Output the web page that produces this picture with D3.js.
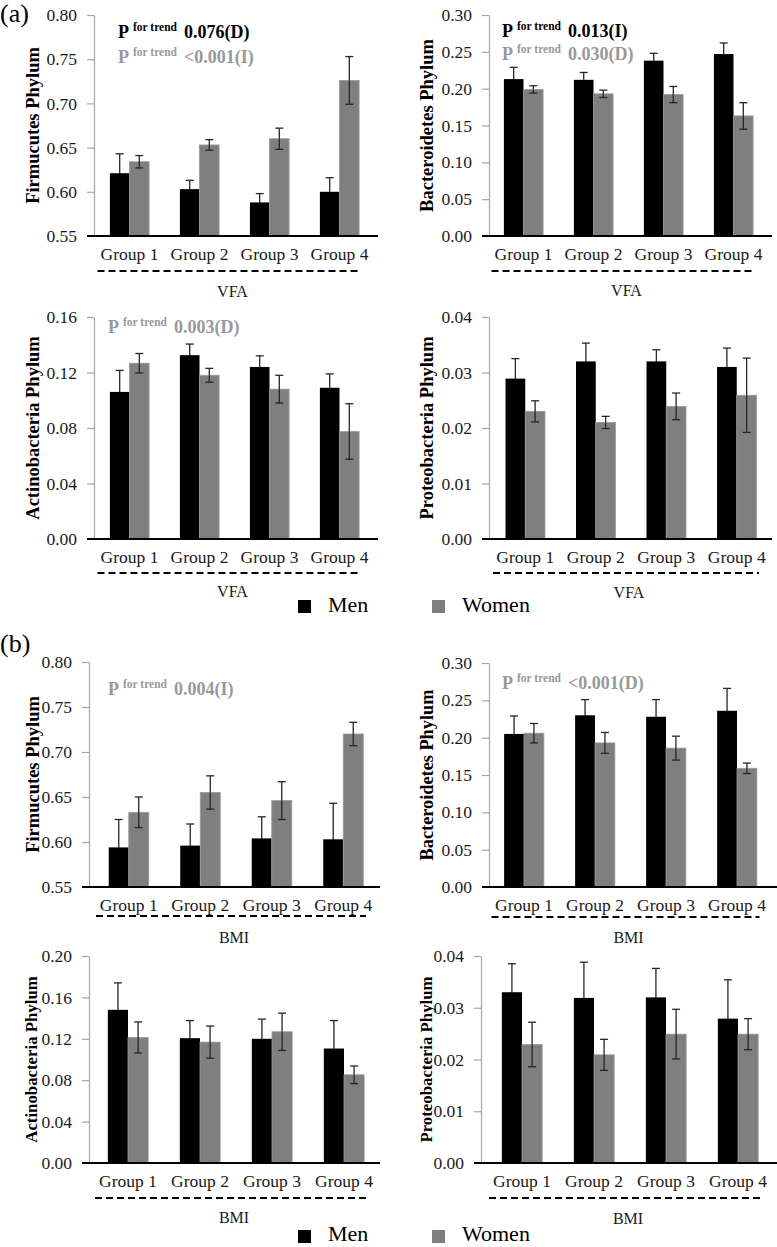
<!DOCTYPE html>
<html>
<head>
<meta charset="utf-8">
<script src="https://cdn.jsdelivr.net/npm/d3@7"></script>
<style>
  body { margin: 0; background: #fff; }
  text { font-family: "Liberation Serif", "Times New Roman", serif; }
</style>
</head>
<body>
<div id="chart"></div>
<script>
const groups = ["Group 1", "Group 2", "Group 3", "Group 4"];
const sexes = ["Men", "Women"];

// (a) VFA
const firmVfaMen = [0.621, 0.603, 0.588, 0.600];
const firmVfaMenErr = [0.022, 0.010, 0.010, 0.016];
const firmVfaWomen = [0.634, 0.653, 0.660, 0.726];
const firmVfaWomenErr = [0.007, 0.006, 0.012, 0.027];

const bactVfaMen = [0.213, 0.212, 0.238, 0.247];
const bactVfaMenErr = [0.016, 0.010, 0.010, 0.015];
const bactVfaWomen = [0.199, 0.193, 0.192, 0.163];
const bactVfaWomenErr = [0.005, 0.005, 0.011, 0.018];

const actVfaMen = [0.106, 0.1325, 0.124, 0.109];
const actVfaMenErr = [0.0155, 0.008, 0.008, 0.010];
const actVfaWomen = [0.1267, 0.118, 0.108, 0.0775];
const actVfaWomenErr = [0.007, 0.005, 0.010, 0.020];

const protVfaMen = [0.0289, 0.032, 0.032, 0.031];
const protVfaMenErr = [0.0036, 0.0033, 0.0021, 0.0034];
const protVfaWomen = [0.023, 0.021, 0.0239, 0.0259];
const protVfaWomenErr = [0.0019, 0.0011, 0.0024, 0.0067];

// (b) BMI
const firmBmiMen = [0.594, 0.596, 0.604, 0.603];
const firmBmiMenErr = [0.031, 0.024, 0.024, 0.040];
const firmBmiWomen = [0.633, 0.655, 0.646, 0.720];
const firmBmiWomenErr = [0.017, 0.0185, 0.021, 0.013];

const bactBmiMen = [0.205, 0.230, 0.228, 0.236];
const bactBmiMenErr = [0.024, 0.021, 0.023, 0.030];
const bactBmiWomen = [0.206, 0.193, 0.186, 0.159];
const bactBmiWomenErr = [0.013, 0.014, 0.016, 0.007];

const actBmiMen = [0.148, 0.1206, 0.120, 0.1106];
const actBmiMenErr = [0.026, 0.017, 0.019, 0.027];
const actBmiWomen = [0.1213, 0.1168, 0.1268, 0.0852];
const actBmiWomenErr = [0.015, 0.0155, 0.018, 0.0085];

const protBmiMen = [0.033, 0.0319, 0.032, 0.0279];
const protBmiMenErr = [0.0055, 0.0069, 0.0056, 0.0075];
const protBmiWomen = [0.0229, 0.0209, 0.0249, 0.0249];
const protBmiWomenErr = [0.0043, 0.003, 0.0048, 0.003];

// tick labels
const firmTicks = [0.55, 0.60, 0.65, 0.70, 0.75, 0.80];
const bactTicks = [0, 0.05, 0.10, 0.15, 0.20, 0.25, 0.30];
const actVfaTicks = [0, 0.04, 0.08, 0.12, 0.16];
const actBmiTicks = [0, 0.04, 0.08, 0.12, 0.16, 0.20];
const protTicks = [0, 0.01, 0.02, 0.03, 0.04];

// P for trend, [men, women]
const trendFirmVfa = ["0.076(D)", "<0.001(I)"];
const trendBactVfa = ["0.013(I)", "0.030(D)"];
const trendActVfa = [null, "0.003(D)"];
const trendProtVfa = [null, null];
const trendFirmBmi = [null, "0.004(I)"];
const trendBactBmi = [null, "<0.001(D)"];
const trendActBmi = [null, null];
const trendProtBmi = [null, null];

const colors = { Men: "#000000", Women: "#7f7f7f" };
const trendColors = ["#000000", "#999999"];

const panels = [
  { men: firmVfaMen, menErr: firmVfaMenErr, women: firmVfaWomen, womenErr: firmVfaWomenErr,
    ticks: firmTicks, title: "Firmucutes Phylum", cat: "VFA", trend: trendFirmVfa,
    x0: 94, xEnd: 378, b0: 94.5, b1: 374.5, yTop: 15, yBot: 236,
    lx: 39, lfs: 18.5, tp: [118, 38, 25], dash: 35, catY: 61 },
  { men: bactVfaMen, menErr: bactVfaMenErr, women: bactVfaWomen, womenErr: bactVfaWomenErr,
    ticks: bactTicks, title: "Bacteroidetes Phylum", cat: "VFA", trend: trendBactVfa,
    x0: 489, xEnd: 772, b0: 488.5, b1: 768.5, yTop: 15, yBot: 236,
    lx: 433, lfs: 18.5, tp: [502, 37, 23], dash: 35, catY: 60 },
  { men: actVfaMen, menErr: actVfaMenErr, women: actVfaWomen, womenErr: actVfaWomenErr,
    ticks: actVfaTicks, title: "Actinobacteria Phylum", cat: "VFA", trend: trendActVfa,
    x0: 94, xEnd: 378, b0: 94.5, b1: 374.5, yTop: 317, yBot: 539,
    lx: 39, lfs: 18.5, tp: [108, 333, 25], dash: 34, catY: 58 },
  { men: protVfaMen, menErr: protVfaMenErr, women: protVfaWomen, womenErr: protVfaWomenErr,
    ticks: protTicks, title: "Proteobacteria Phylum", cat: "VFA", trend: trendProtVfa,
    x0: 489, xEnd: 772, b0: 490, b1: 772, yTop: 317, yBot: 539,
    lx: 433, lfs: 18.5, tp: [502, 333, 25], dash: 34, catY: 59 },
  { men: firmBmiMen, menErr: firmBmiMenErr, women: firmBmiWomen, womenErr: firmBmiWomenErr,
    ticks: firmTicks, title: "Firmucutes Phylum", cat: "BMI", trend: trendFirmBmi,
    x0: 89, xEnd: 380, b0: 93, b1: 379, yTop: 662, yBot: 887,
    lx: 39, lfs: 18.5, tp: [108, 695, 25], dash: 29, catY: 56 },
  { men: bactBmiMen, menErr: bactBmiMenErr, women: bactBmiWomen, womenErr: bactBmiWomenErr,
    ticks: bactTicks, title: "Bacteroidetes Phylum", cat: "BMI", trend: trendBactBmi,
    x0: 489, xEnd: 777, b0: 488.5, b1: 772.5, yTop: 663, yBot: 887,
    lx: 433, lfs: 18.3, tp: [502, 689, 25], dash: 30, catY: 56 },
  { men: actBmiMen, menErr: actBmiMenErr, women: actBmiWomen, womenErr: actBmiWomenErr,
    ticks: actBmiTicks, title: "Actinobacteria Phylum", cat: "BMI", trend: trendActBmi,
    x0: 89, xEnd: 380, b0: 92, b1: 380, yTop: 956, yBot: 1163,
    lx: 37, lfs: 16.8, tp: [108, 990, 25], dash: 35, catY: 60 },
  { men: protBmiMen, menErr: protBmiMenErr, women: protBmiWomen, womenErr: protBmiWomenErr,
    ticks: protTicks, title: "Proteobacteria Phylum", cat: "BMI", trend: trendProtBmi,
    x0: 481, xEnd: 777, b0: 486, b1: 774, yTop: 956, yBot: 1163,
    lx: 432, lfs: 16.8, tp: [502, 990, 25], dash: 35, catY: 61 }
];

const W = 777, H = 1247;
const svg = d3.select("#chart").append("svg")
  .attr("width", W).attr("height", H)
  .attr("viewBox", [0, 0, W, H]);

function drawPanel(p) {
  const g = svg.append("g");
  const y = d3.scaleLinear()
    .domain([p.ticks[0], p.ticks[p.ticks.length - 1]])
    .range([p.yBot, p.yTop]);
  const x = d3.scaleBand().domain(groups).range([p.b0, p.b1])
    .paddingInner(0.44).paddingOuter(0.22);
  const xs = d3.scaleBand().domain(sexes).range([0, x.bandwidth()]);

  // y axis
  const ya = g.append("g")
    .attr("transform", `translate(${p.x0},0)`)
    .call(d3.axisLeft(y).tickValues(p.ticks).tickFormat(d3.format(".2f"))
      .tickSize(7).tickSizeOuter(0).tickPadding(10));
  ya.select(".domain").attr("stroke", "#a6a6a6").attr("stroke-width", 1.2);
  ya.selectAll(".tick line").attr("stroke", "#a6a6a6").attr("stroke-width", 1.2);
  ya.selectAll(".tick text")
    .attr("fill", "#1a1a1a")
    .style("font-size", "17.5px");

  // bars
  const rows = groups.map((grp, i) => [
    { grp, sex: "Men", v: p.men[i], e: p.menErr[i] },
    { grp, sex: "Women", v: p.women[i], e: p.womenErr[i] }
  ]).flat();

  g.selectAll("rect.bar").data(rows).enter().append("rect")
    .attr("class", "bar")
    .attr("x", d => x(d.grp) + xs(d.sex))
    .attr("width", xs.bandwidth())
    .attr("y", d => y(d.v))
    .attr("height", d => y(p.ticks[0]) - y(d.v))
    .attr("fill", d => colors[d.sex])
    .attr("stroke", d => d.sex === "Women" ? "#9a9a9a" : "none")
    .attr("stroke-width", 0.8);

  // error bars (lower half on black bars is black on black)
  const eb = g.selectAll("g.err").data(rows).enter().append("g")
    .attr("class", "err")
    .attr("stroke-width", 1.3);
  const cx = d => x(d.grp) + xs(d.sex) + xs.bandwidth() / 2;
  const low = d => d.sex === "Men" ? "#000" : "#262626";
  eb.append("line")
    .attr("stroke", "#262626")
    .attr("x1", cx).attr("x2", cx)
    .attr("y1", d => y(d.v + d.e)).attr("y2", d => y(d.v));
  eb.append("line")
    .attr("stroke", low)
    .attr("x1", cx).attr("x2", cx)
    .attr("y1", d => y(d.v)).attr("y2", d => y(d.v - d.e));
  eb.append("line")
    .attr("stroke", "#262626")
    .attr("x1", d => cx(d) - 4).attr("x2", d => cx(d) + 4)
    .attr("y1", d => y(d.v + d.e)).attr("y2", d => y(d.v + d.e));
  eb.append("line")
    .attr("stroke", low)
    .attr("x1", d => cx(d) - 4).attr("x2", d => cx(d) + 4)
    .attr("y1", d => y(d.v - d.e)).attr("y2", d => y(d.v - d.e));

  // x axis baseline
  g.append("line")
    .attr("x1", p.x0 - 7).attr("x2", p.xEnd)
    .attr("y1", y(p.ticks[0])).attr("y2", y(p.ticks[0]))
    .attr("stroke", "#000").attr("stroke-width", 1.8);

  // group labels
  const xa = g.append("g")
    .attr("transform", `translate(0,${p.yBot})`)
    .call(d3.axisBottom(x).tickSize(0).tickPadding(12));
  xa.select(".domain").remove();
  xa.selectAll(".tick text")
    .attr("fill", "#1a1a1a")
    .style("font-size", "17.5px");

  // dashed line and category name
  const d0 = p.b0 + 3, d1 = p.b1 - 13;
  g.append("line")
    .attr("x1", d0).attr("x2", d1)
    .attr("y1", p.yBot + p.dash).attr("y2", p.yBot + p.dash)
    .attr("stroke", "#000").attr("stroke-width", 1.8)
    .attr("stroke-dasharray", "7,4");
  g.append("text")
    .attr("x", (d0 + d1) / 2 + 3).attr("y", p.yBot + p.catY)
    .attr("text-anchor", "middle")
    .style("font-size", "16px").attr("fill", "#1a1a1a")
    .text(p.cat);

  // y label
  g.append("text")
    .attr("transform", `translate(${p.lx},${(p.yTop + p.yBot) / 2}) rotate(-90)`)
    .attr("text-anchor", "middle")
    .style("font-size", p.lfs + "px").style("font-weight", "bold")
    .attr("fill", "#000")
    .text(p.title);

  // P for trend
  const lines = p.trend.map((t, i) => ({ t, i })).filter(d => d.t);
  lines.forEach((d, k) => {
    const t = g.append("text")
      .attr("x", p.tp[0]).attr("y", p.tp[1] + k * p.tp[2])
      .attr("fill", trendColors[d.i])
      .style("font-weight", "bold")
      .style("font-size", "18px");
    t.append("tspan").text("P");
    t.append("tspan").attr("dx", 4).attr("dy", -7)
      .style("font-size", "11.5px").text("for trend");
    t.append("tspan").attr("dx", 7).attr("dy", 7).text(d.t);
  });
}

panels.forEach(drawPanel);

// panel letters
svg.append("text").attr("x", 0).attr("y", 22)
  .style("font-size", "26px").text("(a)");
svg.append("text").attr("x", 0).attr("y", 652)
  .style("font-size", "26px").text("(b)");

// legends
function legend(yTop, base) {
  const lg = svg.append("g");
  const lx = d3.scaleOrdinal().domain(sexes).range([298, 432]);
  sexes.forEach(s => {
    lg.append("rect")
      .attr("x", lx(s)).attr("y", yTop)
      .attr("width", 13).attr("height", 13)
      .attr("fill", colors[s]);
    lg.append("text")
      .attr("x", lx(s) + 30).attr("y", base)
      .style("font-size", "22px").attr("fill", "#000")
      .text(s);
  });
}
legend(600, 612);
legend(1230, 1241);
</script>
</body>
</html>
